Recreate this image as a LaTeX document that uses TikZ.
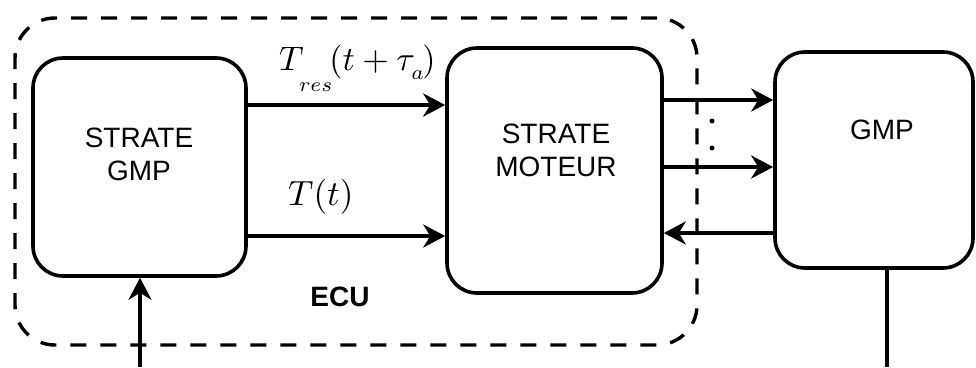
\documentclass[tikz,border=0pt]{standalone}
\usepackage{graphicx}
\usepackage{fontspec}
\setmainfont{Liberation Sans}
\usetikzlibrary{arrows.meta}
\begin{document}
\begin{tikzpicture}[x=1pt,y=-1pt,
  box/.style={draw,line width=3.6pt,rounded corners=30pt,inner sep=0pt},
  ecubox/.style={draw,line width=3.4pt,rounded corners=40pt,dash pattern=on 16pt off 14pt,inner sep=0pt},
  arr/.style={line width=3.4pt,-{Stealth[length=22pt,width=23pt,inset=7pt]}},
  wire/.style={line width=3.4pt},
  txt/.style={font=\fontsize{28}{33}\selectfont,align=center,inner sep=0pt},
  mlab/.style={inner sep=0pt,anchor=base west},
  dot/.style={circle,fill,inner sep=0pt,minimum size=5pt}]
\useasboundingbox (0,0) rectangle (976,367);
% ECU dashed frame
\node[ecubox,minimum width=682pt,minimum height=327pt] (ecu) at (356,181.5) {};
\node[txt,font=\fontsize{28}{33}\selectfont\bfseries] (ecutxt) at (340,297) {ECU};
% boxes
\node[box,minimum width=213pt,minimum height=218pt] (sg) at (139.5,167) {};
\node[txt] (sgtxt) at (139,154) {STRATE\\GMP};
\node[box,minimum width=215pt,minimum height=245pt] (sm) at (554.5,170.5) {};
\node[txt] (smtxt) at (556,150) {STRATE\\MOTEUR};
\node[box,minimum width=198pt,minimum height=216pt] (gmp) at (874,160) {};
\node[txt] (gmptxt) at (882,130) {GMP};
% helper coordinates
\coordinate (y1) at (0,105);
\coordinate (y2) at (0,236);
\coordinate (r1) at (0,100);
\coordinate (r2) at (0,167);
\coordinate (r3) at (0,233);
\coordinate (inb) at (140,367);
\coordinate (outb) at (887,367);
% arrows
\draw[arr] (sg.east |- y1) -- (sm.west |- y1);
\draw[arr] (sg.east |- y2) -- (sm.west |- y2);
\draw[arr] (sm.east |- r1) -- (gmp.west |- r1);
\draw[arr] (sm.east |- r2) -- (gmp.west |- r2);
\draw[arr] (gmp.west |- r3) -- (sm.east |- r3);
\draw[arr] (inb) -- (inb |- sg.south);
\draw[wire] (outb |- gmp.south) -- (outb);
% dots
\node[dot] (d1) at (712,121) {};
\node[dot] (d2) at (712,148) {};
% labels
\node[mlab] (lres) at (279,70) {\scalebox{3.4}{$T_{\raisebox{-4.7pt}{\scalebox{0.85}{$\scriptstyle res$}}\mkern-3mu}(t+\tau_{\raisebox{-1.4pt}{\scalebox{0.85}{$\scriptstyle a$}}\mkern-2mu})$}};
\node[mlab] (lt) at (288,205) {\scalebox{3.5}{$T(t)$}};
\end{tikzpicture}
\end{document}
